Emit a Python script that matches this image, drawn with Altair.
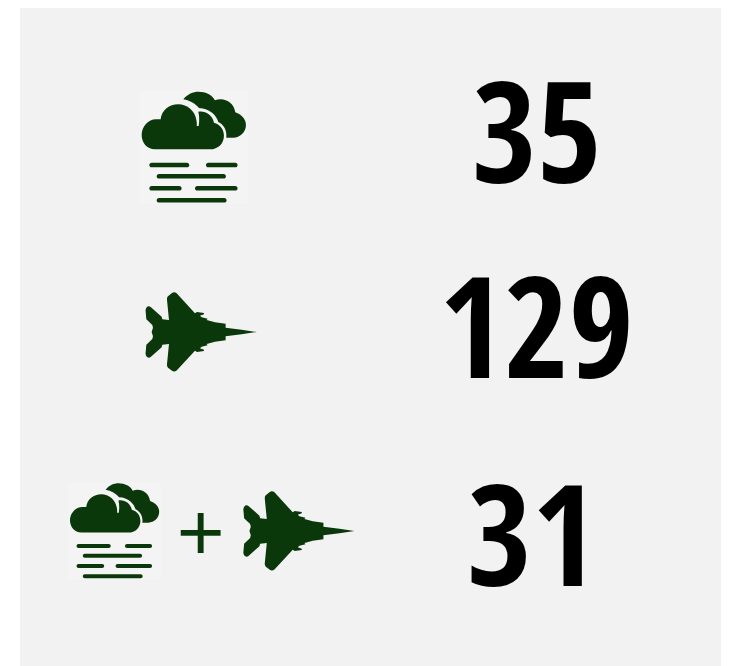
import altair as alt
import pandas as pd

# Content of the three rows
row_labels = ["fog", "aircraft", "fog + aircraft"]
counts = ["35", "129", "31"]

# Where each row sits on the page
count_x = [537, 536.5, 532]
count_y = [183, 378, 586]
cloud_x = [130, 60]
cloud_y = [85, 477.6]
cloud_size = [0.444, 0.325]
plane_x = [135, 232.8]
plane_y = [285, 484]
plane_size = [0.444, 0.444]

GREEN = "#0a380a"
PANEL = "#f2f2f2"
TILE = "#f4f4f4"
XS = alt.Scale(domain=[8, 721], range=[0, 713], nice=False, zero=False)
YS = alt.Scale(domain=[8, 666], range=[0, 658], nice=False, zero=False)


def pill(x0, x1, y, r=7):
    return (f"M{x0 + r},{y - r}H{x1 - r}A{r},{r} 0 0 1 {x1 - r},{y + r}"
            f"H{x0 + r}A{r},{r} 0 0 1 {x0 + r},{y - r}Z")


FRONT = ("M75,193C50,193 35,172 35,150C35,125 55,103 78,103L92,103"
         "C95,75 118,58 145,58C172,58 195,78 199,104C201,112 201,118 200,123"
         "L206,123C208,112 209,95 205,80C225,76 248,90 252,113"
         "C270,118 282,133 282,152C282,175 265,193 240,193Z")
BACK = ("M160,43C172,27 190,20 205,20C228,20 247,30 255,46"
        "C280,35 312,50 316,82C335,88 348,103 348,120C348,142 330,158 310,158"
        "L289,158C292,135 280,118 265,111C260,92 240,70 207,69"
        "C198,58 180,46 160,43Z")
FOG = "".join(pill(*p) for p in [
    (58, 178, 240), (228, 323, 240), (80, 288, 274),
    (58, 155, 310), (195, 323, 310), (80, 290, 346)])
CLOUD = FRONT + BACK + FOG
TILE_PATH = "M28,18H355V358H28Z"
PLANE = ("M365,141L320,134L272,128L272,116L240,112L215,105L218,101L200,97L195,92"
         "L207,88L207,84L186,81L180,85L125,25C120,21 115,21 110,25L99,34C96,37 96,40 96,44"
         "L102,105L82,103L80,95L47,66C43,63 38,63 34,68C32,72 31,76 32,80L34,103L52,120L54,128"
         "L50,141L54,154L52,162L34,179L32,202C31,206 32,210 34,214C38,219 43,219 47,216L80,187"
         "L82,179L102,177L96,238C96,242 96,245 99,248L110,257C115,261 120,261 125,257"
         "L180,197L186,201L207,198L207,194L195,190L200,185L218,181L215,177L240,170L272,166L272,154"
         "L320,148Z")

panel = pd.DataFrame({"x": [20], "x2": [721], "y": [8], "y2": [666]})
clouds = pd.DataFrame({"x": cloud_x, "y": cloud_y, "s": cloud_size})
planes = pd.DataFrame({"x": plane_x, "y": plane_y, "s": plane_size})
numbers = pd.DataFrame({"row": row_labels, "t": counts, "x": count_x, "y": count_y})
plus = pd.DataFrame({"t": ["+"], "x": [200.7], "y": [560]})

X = alt.X("x:Q", scale=XS, axis=None)
Y = alt.Y("y:Q", scale=YS, axis=None)
SIZE = alt.Size("s:Q", scale=None, legend=None)

bg = alt.Chart(panel).mark_rect(color=PANEL).encode(
    x=X, x2="x2:Q", y=Y, y2="y2:Q")


def icon(df, path, colour):
    return alt.Chart(df).mark_point(
        shape=path, filled=True, fill=colour, strokeWidth=0, opacity=1
    ).encode(x=X, y=Y, size=SIZE)


num = alt.Chart(numbers).mark_text(
    font="Open Sans Condensed", fontWeight="bold", fontSize=140,
    align="center", baseline="alphabetic", color="#000000"
).encode(x=X, y=Y, text="t:N")
plus_t = alt.Chart(plus).mark_text(
    font="Liberation Sans", fontSize=82, align="center",
    baseline="alphabetic", color=GREEN
).encode(x=X, y=Y, text="t:N")

chart = alt.layer(
    bg, icon(clouds, TILE_PATH, TILE), icon(clouds, CLOUD, GREEN),
    icon(planes, PLANE, GREEN), plus_t, num
).properties(width=713, height=658, padding=0, background="#ffffff"
).configure_view(stroke=None)

chart.save("out.html", embed_options={"renderer": "svg", "actions": False})
